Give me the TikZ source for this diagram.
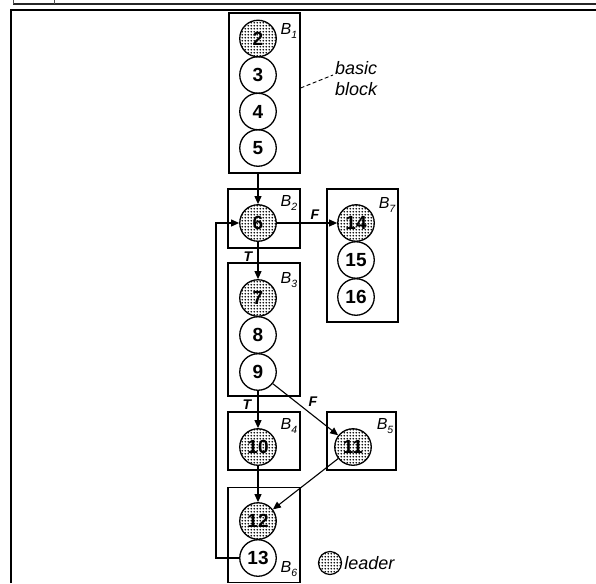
\documentclass[tikz,border=0pt]{standalone}
\usepackage{fontspec}
\setmainfont{Liberation Sans}
\usetikzlibrary{patterns.meta,arrows.meta}
\tikzdeclarepattern{
  name=bigdots,
  type=uncolored,
  bottom left={(-1.6pt,-1.6pt)},
  top right={(1.6pt,1.6pt)},
  tile size={(3.2pt,3.2pt)},
  code={\fill (0pt,0pt) circle [radius=1.05pt];}
}
\newcommand{\blab}[1]{\itshape B\raisebox{-0.3em}{\fontsize{10.5}{10.5}\selectfont #1}}
\begin{document}
\begin{tikzpicture}[x=1pt,y=-1pt,
  st/.style={circle,draw,line width=1.3pt,minimum size=36.5pt,inner sep=0pt,font=\fontsize{19}{19}\selectfont\bfseries},
  ld/.style={st,pattern=bigdots},
  blk/.style={draw,line width=1.2pt,inner sep=0pt},
  bl/.style={inner sep=0pt,font=\fontsize{16}{16}\selectfont},
  tf/.style={inner sep=0pt,font=\fontsize{14}{14}\selectfont\bfseries\itshape},
  arr/.style={-{Triangle[length=8pt,width=7pt]},line width=1.1pt},
  frame/.style={line width=2.5pt}
  ]
\useasboundingbox (0,0) rectangle (596,583);
% frame
\draw[frame] (11,583) -- (11,10) -- (596,10);
\draw[line width=2pt, black!85] (13,4.5) -- (596,4.5);
\draw[line width=0.8pt, black!70] (13.5,0) -- (13.5,4) (54,0) -- (54,4);
% blocks
\node[blk,minimum width=71pt,minimum height=160pt] (b1) at (264.5,93) {};
\node[blk,minimum width=72pt,minimum height=59pt] (b2) at (264,218.5) {};
\node[blk,minimum width=71pt,minimum height=133pt] (b7) at (362.5,255.5) {};
\node[blk,minimum width=72pt,minimum height=133pt] (b3) at (264,329.5) {};
\node[blk,minimum width=72pt,minimum height=58pt] (b4) at (264,441) {};
\node[blk,minimum width=69pt,minimum height=58pt] (b5) at (361.5,441) {};
\node[blk,minimum width=72pt,minimum height=95pt] (b6) at (264,535) {};
% statements
\node[ld] (c2) at (258,38.5) {2};
\node[st] (c3) at (258,75) {3};
\node[st] (c4) at (258,111.5) {4};
\node[st] (c5) at (258,148) {5};
\node[ld] (c6) at (258,223) {6};
\node[ld] (c14) at (356,223) {14};
\node[st] (c15) at (356,260) {15};
\node[st] (c16) at (356,297) {16};
\node[ld] (c7) at (258,298) {7};
\node[st] (c8) at (258,335) {8};
\node[st] (c9) at (258,372) {9};
\node[ld] (c10) at (258,447) {10};
\node[ld] (c11) at (353,447) {11};
\node[ld] (c12) at (258,521) {12};
\node[st] (c13) at (258,558) {13};
% block labels
\node[bl] (l1) at (289,31) {\blab{1}};
\node[bl] (l2) at (289,203) {\blab{2}};
\node[bl] (l7) at (387,205) {\blab{7}};
\node[bl] (l3) at (289,280) {\blab{3}};
\node[bl] (l4) at (289,426) {\blab{4}};
\node[bl] (l5) at (385,426) {\blab{5}};
\node[bl] (l6) at (289,569) {\blab{6}};
% basic block annotation
\node[inner sep=0pt,anchor=west,align=left,font=\fontsize{18}{21}\selectfont\itshape] (bb) at (335,79) {basic\\block};
\draw[line width=0.9pt,dash pattern=on 4pt off 2.5pt] ([yshift=5pt]b1.east) -- ([xshift=-2pt,yshift=4pt]bb.west);
% edges
\draw[arr] (c5 |- b1.south) -- (c6.north);
\draw[arr] (c6.east) -- (c14.west);
\draw[arr] (c6.south) -- (c7.north);
\draw[arr] (c9.south) -- (c10.north);
\draw[arr] (c9) -- (c11);
\draw[arr] (c10.south) -- (c12.north);
\draw[arr] (c11) -- (c12);
\coordinate (back) at (216,0);
\draw[arr] (c13.west) -- (c13.west -| back) |- (c6.west);
% edge labels
\node[tf] (f1) at (315,215) {F};
\node[tf] (t1) at (248,257) {T};
\node[tf] (t2) at (247,405) {T};
\node[tf] (f2) at (313,402) {F};
% legend
\node[circle,draw,line width=1.2pt,minimum size=23pt,inner sep=0pt,pattern=bigdots] (lg) at (330,563) {};
\node[anchor=west,inner sep=2pt,font=\fontsize{18}{18}\selectfont\itshape] (lt) at (lg.east) {leader};
\end{tikzpicture}
\end{document}
